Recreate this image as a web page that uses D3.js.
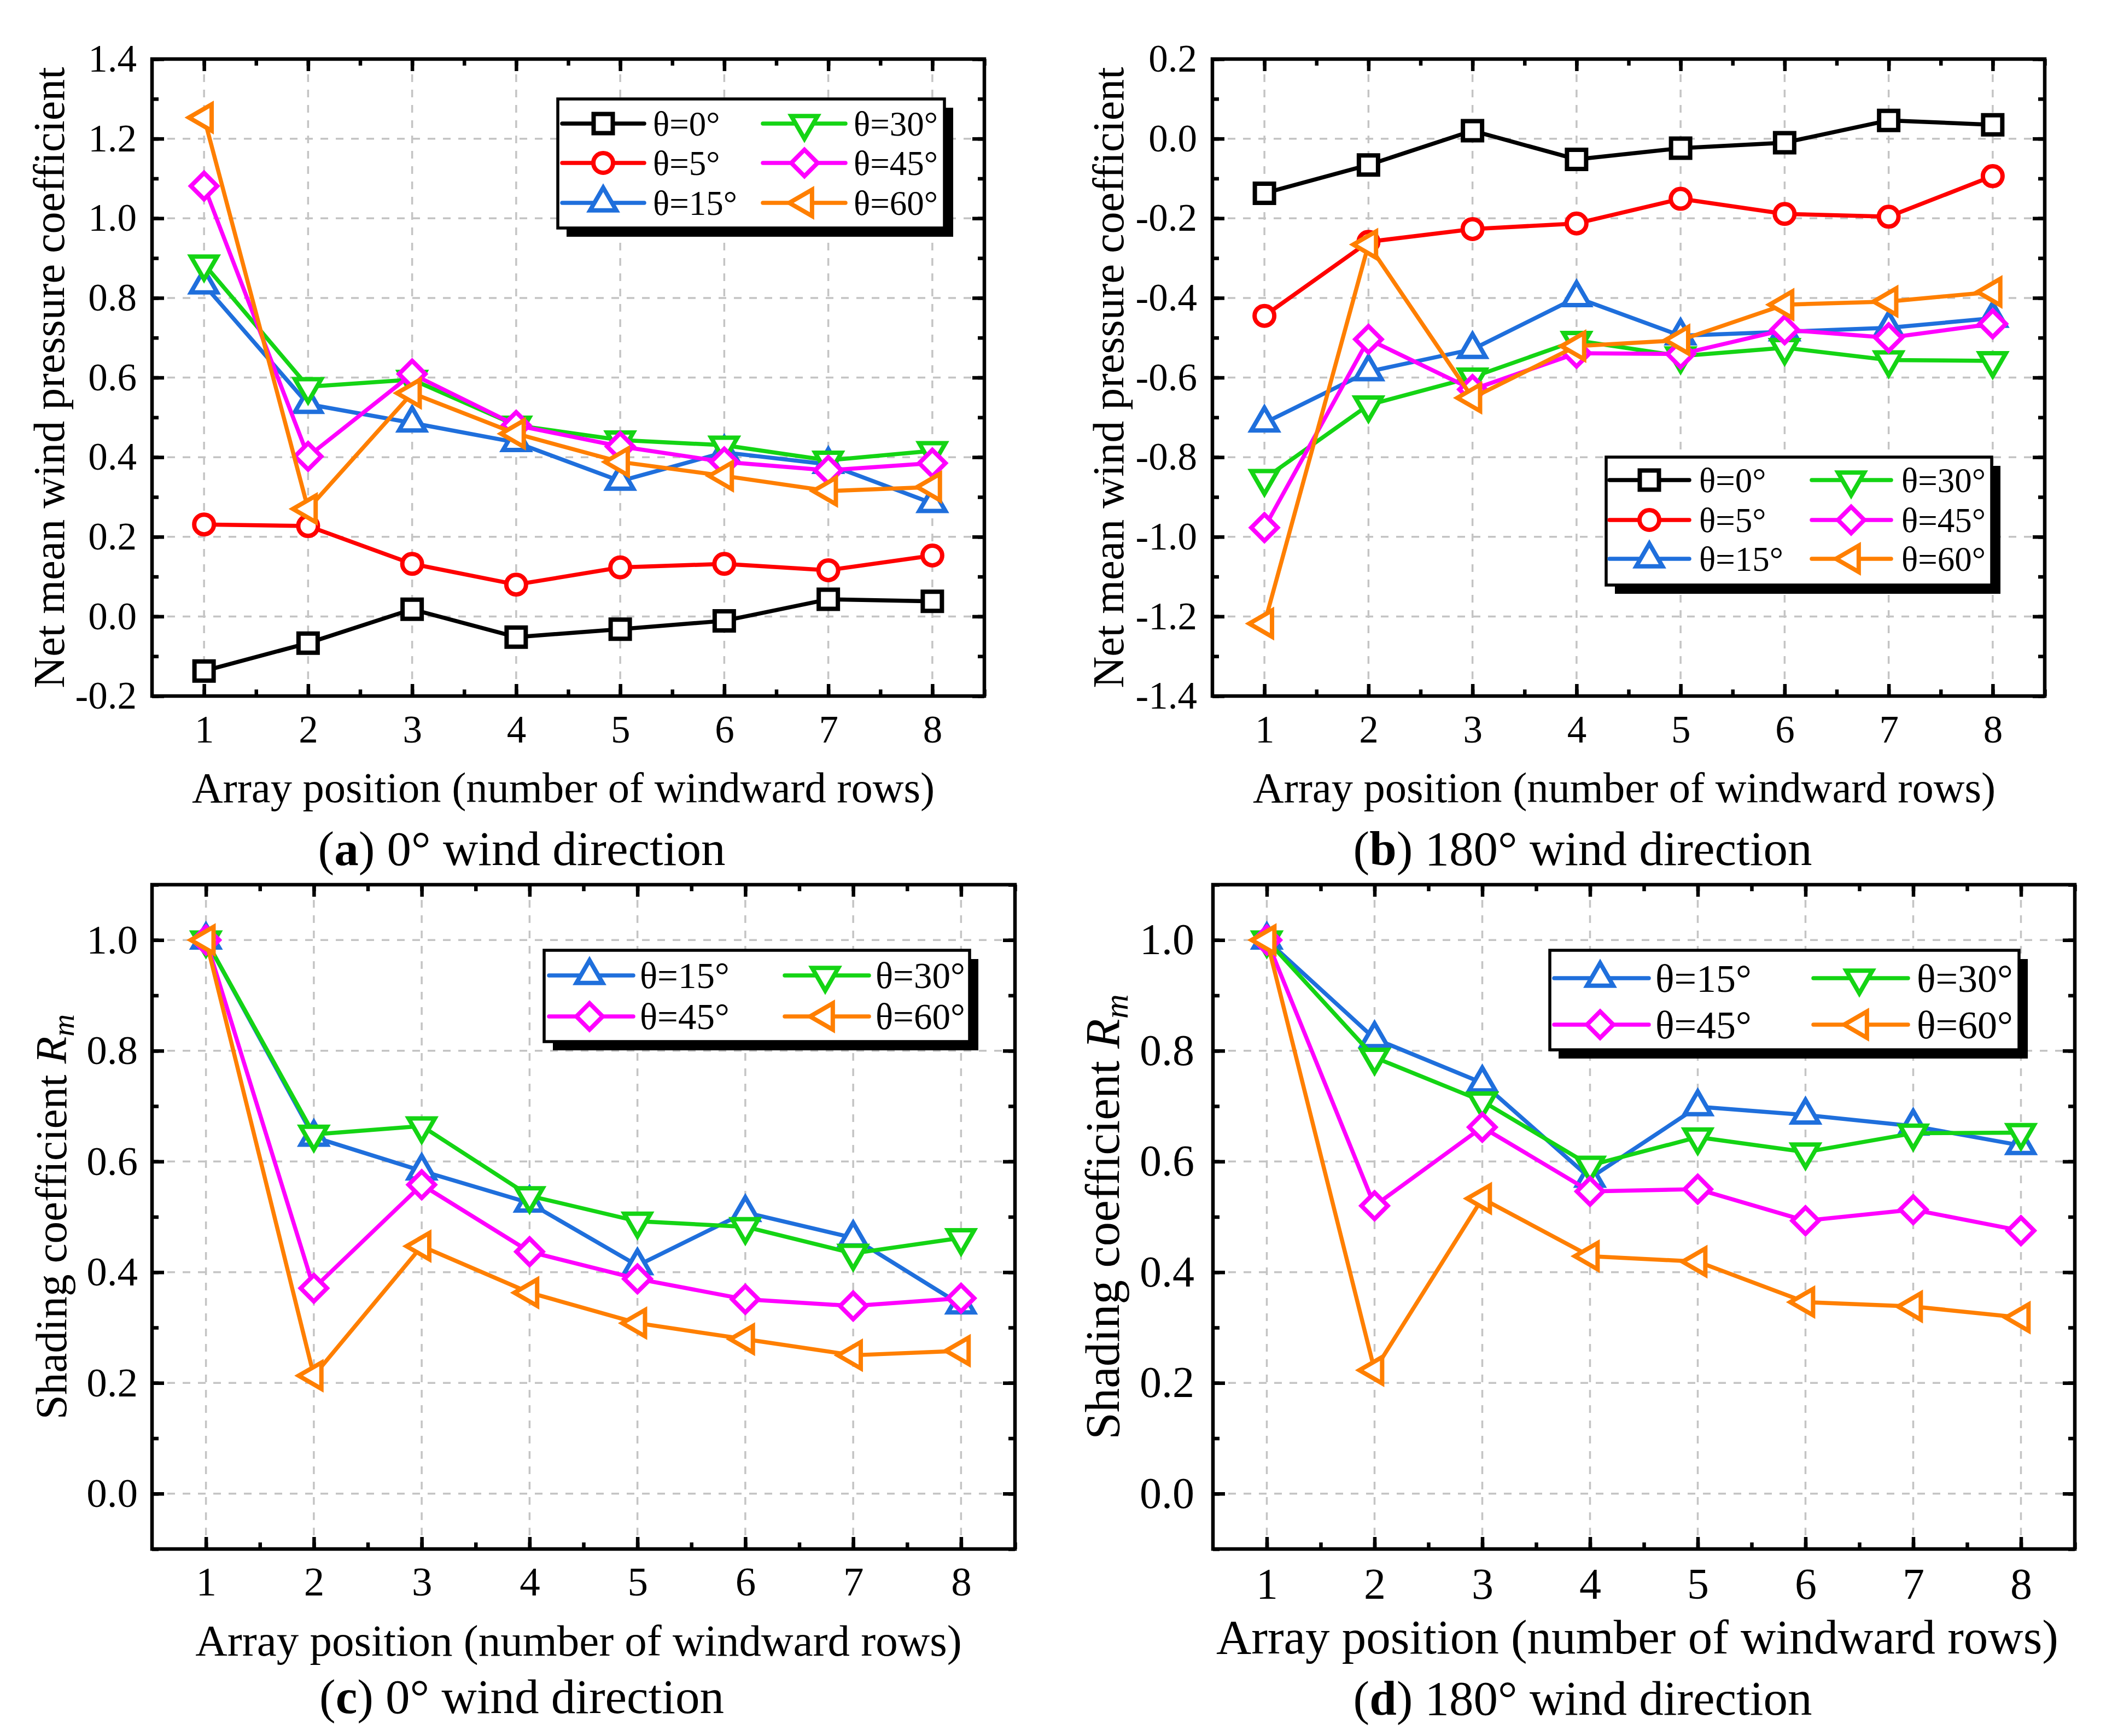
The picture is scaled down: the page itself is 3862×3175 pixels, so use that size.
<!DOCTYPE html>
<html>
<head>
<meta charset="utf-8">
<script src="https://cdn.jsdelivr.net/npm/d3@7"></script>
<style>
    body { margin: 0; background: #ffffff; }
    svg text { font-family: "Liberation Serif", "Times New Roman", serif; fill: #000; }
</style>
</head>
<body>
<div id="chart"></div>
<script>

// array positions (number of windward rows)
const positions = [1, 2, 3, 4, 5, 6, 7, 8];

// (a) net mean wind pressure coefficient, 0° wind direction
const cpA_t0  = [-0.137, -0.067, 0.018, -0.052, -0.032, -0.011, 0.043, 0.038];
const cpA_t5  = [0.231, 0.227, 0.132, 0.080, 0.123, 0.132, 0.116, 0.153];
const cpA_t15 = [0.833, 0.533, 0.486, 0.437, 0.340, 0.412, 0.382, 0.284];
const cpA_t30 = [0.885, 0.577, 0.595, 0.480, 0.443, 0.430, 0.392, 0.416];
const cpA_t45 = [1.081, 0.402, 0.609, 0.480, 0.427, 0.388, 0.367, 0.385];
const cpA_t60 = [1.253, 0.270, 0.561, 0.459, 0.388, 0.353, 0.315, 0.325];

// (b) net mean wind pressure coefficient, 180° wind direction
const cpB_t0  = [-0.137, -0.066, 0.020, -0.052, -0.024, -0.010, 0.046, 0.035];
const cpB_t5  = [-0.445, -0.259, -0.227, -0.213, -0.151, -0.189, -0.196, -0.094];
const cpB_t15 = [-0.714, -0.585, -0.529, -0.399, -0.495, -0.485, -0.475, -0.451];
const cpB_t30 = [-0.854, -0.669, -0.599, -0.507, -0.546, -0.525, -0.556, -0.558];
const cpB_t45 = [-0.977, -0.504, -0.630, -0.539, -0.541, -0.480, -0.500, -0.465];
const cpB_t60 = [-1.218, -0.266, -0.651, -0.521, -0.506, -0.417, -0.409, -0.385];

// (c) shading coefficient Rm, 0° wind direction
const rmC_t15 = [1.000, 0.644, 0.583, 0.525, 0.412, 0.508, 0.462, 0.341];
const rmC_t30 = [1.000, 0.649, 0.664, 0.538, 0.492, 0.482, 0.434, 0.462];
const rmC_t45 = [1.000, 0.371, 0.558, 0.437, 0.388, 0.351, 0.339, 0.353];
const rmC_t60 = [1.000, 0.213, 0.447, 0.363, 0.308, 0.279, 0.250, 0.258];

// (d) shading coefficient Rm, 180° wind direction
const rmD_t15 = [1.000, 0.822, 0.742, 0.570, 0.699, 0.684, 0.664, 0.629];
const rmD_t30 = [1.000, 0.788, 0.709, 0.593, 0.644, 0.617, 0.651, 0.652];
const rmD_t45 = [1.000, 0.520, 0.662, 0.546, 0.550, 0.493, 0.513, 0.475];
const rmD_t60 = [1.000, 0.223, 0.533, 0.429, 0.419, 0.346, 0.338, 0.318];

// series names and styles (index = theta)
const thetaNames  = ["θ=0°", "θ=5°", "θ=15°", "θ=30°", "θ=45°", "θ=60°"];
const thetaColors = ["#000000", "#ff0000", "#1f6fdc", "#14d414", "#ff00ff", "#ff7f00"];
const thetaShapes = ["square", "circle", "triUp", "triDown", "diamond", "triLeft"];

const xTitle = "Array position (number of windward rows)";

// panel layouts
const panels = [
    {
        box: [278, 108, 1800, 1273], yDomain: [-0.2, 1.4],
        series: [[0, cpA_t0], [1, cpA_t5], [2, cpA_t15], [3, cpA_t30], [4, cpA_t45], [5, cpA_t60]],
        tickFont: 71, padX: 35, padY: 28,
        titleFont: 78.5, titleX: 1030, titleY: 1467,
        yLabel: "cp", yLabelX: 117, yLabelFont: 80,
        caption: ["a", " 0° wind direction"], capX: 954, capY: 1582,
        legend: {box: [1020, 181, 707, 236], rows: [226, 298, 371], font: 63,
            cols: [[1028, 1178, 1103, 1194], [1395, 1546, 1471, 1561]],
            items: [[0, 0, 0], [0, 1, 1], [0, 2, 2], [1, 0, 3], [1, 1, 4], [1, 2, 5]]}
    },
    {
        box: [2217, 108, 3739, 1273], yDomain: [-1.4, 0.2],
        series: [[0, cpB_t0], [1, cpB_t5], [2, cpB_t15], [3, cpB_t30], [4, cpB_t45], [5, cpB_t60]],
        tickFont: 71, padX: 35, padY: 28,
        titleFont: 78.5, titleX: 2970, titleY: 1467,
        yLabel: "cp", yLabelX: 2054, yLabelFont: 80,
        caption: ["b", " 180° wind direction"], capX: 2894, capY: 1582,
        legend: {box: [2937, 836, 705, 234], rows: [878, 951, 1022], font: 63,
            cols: [[2943, 3089, 3016, 3107], [3313, 3458, 3385, 3477]],
            items: [[0, 0, 0], [0, 1, 1], [0, 2, 2], [1, 0, 3], [1, 1, 4], [1, 2, 5]]}
    },
    {
        box: [278, 1618, 1856, 2833], yDomain: [-0.1, 1.1],
        series: [[2, rmC_t15], [3, rmC_t30], [4, rmC_t45], [5, rmC_t60]],
        tickFont: 75, padX: 32, padY: 26,
        titleFont: 81, titleX: 1058, titleY: 3028,
        yLabel: "rm", yLabelX: 121, yLabelFont: 81,
        caption: ["c", " 0° wind direction"], capX: 954, capY: 3133,
        legend: {box: [995, 1738, 778, 167], rows: [1784, 1859], font: 67,
            cols: [[1004, 1158, 1078, 1170], [1435, 1589, 1509, 1601]],
            items: [[0, 0, 2], [1, 0, 3], [0, 1, 4], [1, 1, 5]]}
    },
    {
        box: [2218, 1618, 3794, 2833], yDomain: [-0.1, 1.1],
        series: [[2, rmD_t15], [3, rmD_t30], [4, rmD_t45], [5, rmD_t60]],
        tickFont: 80, padX: 34, padY: 34,
        titleFont: 89, titleX: 2994, titleY: 3024,
        yLabel: "rm", yLabelX: 2046, yLabelFont: 89,
        caption: ["d", " 180° wind direction"], capX: 2894, capY: 3136,
        legend: {box: [2834, 1738, 858, 182], rows: [1789, 1874], font: 72,
            cols: [[2842, 3015, 2926, 3027], [3316, 3489, 3400, 3505]],
            items: [[0, 0, 2], [1, 0, 3], [0, 1, 4], [1, 1, 5]]}
    }
];

const W = 3862, H = 3175;
const svg = d3.select("#chart").append("svg")
    .attr("width", W)
    .attr("height", H);

svg.append("rect").attr("width", W).attr("height", H).attr("fill", "#fff");

// marker generator
function markerPath(shape) {
    if (shape === "square") return d3.symbol(d3.symbolSquare, 35 * 35)();
    if (shape === "diamond") return d3.symbol(d3.symbolSquare, 34 * 34)();
    if (shape === "circle") return d3.symbol(d3.symbolCircle, Math.PI * 18 * 18)();
    return d3.symbol(d3.symbolTriangle, 0.433 * 48 * 48)();
}
function markerRotate(shape) {
    if (shape === "diamond") return 45;
    if (shape === "triDown") return 180;
    if (shape === "triLeft") return -90;
    return 0;
}
function drawMarker(g, cx, cy, t) {
    g.append("path")
        .attr("d", markerPath(thetaShapes[t]))
        .attr("transform", `translate(${cx},${cy}) rotate(${markerRotate(thetaShapes[t])})`)
        .attr("fill", "#fff")
        .attr("stroke", thetaColors[t])
        .attr("stroke-width", 8)
        .attr("stroke-linejoin", "miter");
}

const fmt = d => (Math.abs(d) < 1e-9 ? "0.0" : d.toFixed(1));

panels.forEach(p => {
    let [x0, y0, x1, y1] = p.box;
    let g = svg.append("g");

    let x = d3.scaleLinear().domain([0.5, 8.5]).range([x0, x1]);
    let y = d3.scaleLinear().domain(p.yDomain).range([y1, y0]);

    let yMajor = d3.ticks(p.yDomain[0], p.yDomain[1], 8).filter(v => Math.abs(Math.round(v * 5) - v * 5) < 1e-6);
    let yMinor = d3.range(Math.round(p.yDomain[0] * 10), Math.round(p.yDomain[1] * 10) + 1).map(v => v / 10);
    let xMinor = d3.range(1, 17).map(v => v / 2 + 0.5);

    // grid
    let grid = g.append("g")
        .attr("stroke", "#c4c4c4")
        .attr("stroke-width", 3.5)
        .attr("stroke-dasharray", "14,14");
    grid.selectAll(".gx").data(positions).enter().append("line")
        .attr("x1", d => x(d)).attr("x2", d => x(d))
        .attr("y1", y0).attr("y2", y1);
    grid.selectAll(".gy").data(yMajor).enter().append("line")
        .attr("x1", x0).attr("x2", x1)
        .attr("y1", d => y(d)).attr("y2", d => y(d));

    // series
    let line = d3.line()
        .x((d, i) => x(positions[i]))
        .y(d => y(d));

    p.series.forEach(([t, vals]) => {
        let sg = g.append("g");
        sg.append("path")
            .datum(vals)
            .attr("d", line)
            .attr("fill", "none")
            .attr("stroke", thetaColors[t])
            .attr("stroke-width", 7.5)
            .attr("stroke-linejoin", "round");
        vals.forEach((v, i) => drawMarker(sg, x(positions[i]), y(v), t));
    });

    // axes: all ticks point inward on four sides
    let axes = [
        ["bottom", `translate(0,${y1})`, true, "x"],
        ["top", `translate(0,${y0})`, false, "x"],
        ["left", `translate(${x0},0)`, true, "y"],
        ["right", `translate(${x1},0)`, false, "y"]
    ];
    let makeAxis = side => side === "bottom" ? d3.axisBottom(x) : side === "top" ? d3.axisTop(x)
        : side === "left" ? d3.axisLeft(y) : d3.axisRight(y);

    axes.forEach(([side, tr, labels, dim]) => {
        let major = dim === "x" ? positions : yMajor;
        let minor = dim === "x" ? xMinor : yMinor;

        let gMinor = g.append("g").attr("transform", tr);
        gMinor.call(makeAxis(side).tickValues(minor).tickSize(-12).tickSizeOuter(0).tickFormat(""));

        let gMajor = g.append("g").attr("transform", tr);
        gMajor.call(makeAxis(side).tickValues(major).tickSize(-22).tickSizeOuter(0)
            .tickPadding(dim === "x" ? p.padX : p.padY)
            .tickFormat(labels ? (dim === "x" ? d3.format("d") : fmt) : ""));

        [gMinor, gMajor].forEach(s => {
            s.select(".domain").remove();
            s.selectAll(".tick line").attr("stroke", "#000").attr("stroke-width", 6.5);
            s.selectAll(".tick text")
                .attr("font-size", p.tickFont)
                .attr("font-family", "Liberation Serif, Times New Roman, serif")
                .attr("fill", "#000");
        });
    });

    // frame
    g.append("rect")
        .attr("x", x0).attr("y", y0)
        .attr("width", x1 - x0).attr("height", y1 - y0)
        .attr("fill", "none")
        .attr("stroke", "#000")
        .attr("stroke-width", 6.5);

    // axis titles
    g.append("text")
        .attr("x", p.titleX).attr("y", p.titleY)
        .attr("text-anchor", "middle")
        .attr("font-size", p.titleFont)
        .text(xTitle);

    let yl = g.append("text")
        .attr("transform", `translate(${p.yLabelX},${(y0 + y1) / 2}) rotate(-90)`)
        .attr("text-anchor", "middle")
        .attr("font-size", p.yLabelFont);
    if (p.yLabel === "cp") {
        yl.text("Net mean wind pressure coefficient");
    } else {
        yl.append("tspan").text("Shading coefficient ");
        yl.append("tspan").attr("font-style", "italic").text("R");
        yl.append("tspan").attr("font-style", "italic").attr("font-size", "0.7em").attr("dy", "0.25em").text("m");
    }

    // caption
    let cap = g.append("text")
        .attr("x", p.capX).attr("y", p.capY)
        .attr("text-anchor", "middle")
        .attr("font-size", 89);
    cap.append("tspan").text("(");
    cap.append("tspan").attr("font-weight", "bold").text(p.caption[0]);
    cap.append("tspan").text(")" + p.caption[1]);

    // legend
    let L = p.legend;
    let [lx, ly, lw, lh] = L.box;
    let lg = g.append("g");
    lg.append("rect")
        .attr("x", lx + 16).attr("y", ly + 16)
        .attr("width", lw).attr("height", lh)
        .attr("fill", "#000");
    lg.append("rect")
        .attr("x", lx).attr("y", ly)
        .attr("width", lw).attr("height", lh)
        .attr("fill", "#fff")
        .attr("stroke", "#000")
        .attr("stroke-width", 5.5);
    L.items.forEach(([c, r, t]) => {
        let [l0, l1, mx, tx] = L.cols[c];
        let ry = L.rows[r];
        lg.append("line")
            .attr("x1", l0).attr("x2", l1)
            .attr("y1", ry).attr("y2", ry)
            .attr("stroke", thetaColors[t])
            .attr("stroke-width", 7.5)
            .attr("stroke-linecap", "round");
        drawMarker(lg, mx, ry, t);
        lg.append("text")
            .attr("x", tx).attr("y", ry)
            .attr("dy", "0.35em")
            .attr("font-size", L.font)
            .text(thetaNames[t]);
    });
});

</script>
</body>
</html>
